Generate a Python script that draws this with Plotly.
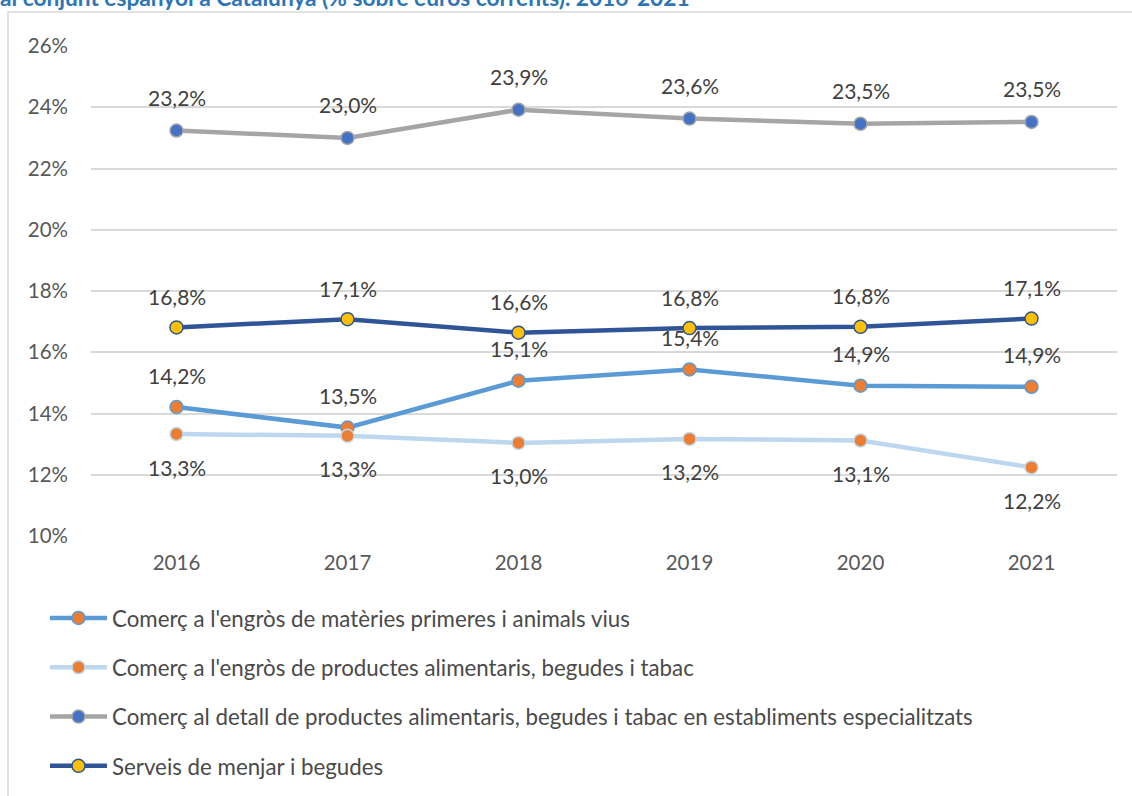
import plotly.graph_objects as go

years = ["2016", "2017", "2018", "2019", "2020", "2021"]
names = [
    "Comerç a l'engròs de matèries primeres i animals vius",
    "Comerç a l'engròs de productes alimentaris, begudes i tabac",
    "Comerç al detall de productes alimentaris, begudes i tabac en establiments especialitzats",
    "Serveis de menjar i begudes",
]
engros_materies = [14.21, 13.54, 15.07, 15.44, 14.91, 14.87]
engros_alimentaris = [13.33, 13.27, 13.04, 13.17, 13.12, 12.24]
detall_alimentaris = [23.24, 23.0, 23.92, 23.63, 23.46, 23.52]
serveis_menjar = [16.81, 17.08, 16.64, 16.79, 16.83, 17.1]
series = [engros_materies, engros_alimentaris, detall_alimentaris, serveis_menjar]

line_colors = ["#5B9BD5", "#BDD7EE", "#A5A5A5", "#2F5597"]
marker_colors = ["#ED7D31", "#ED7D31", "#4472C4", "#FFC000"]
label_shift = [32, -33, 33, 31]

title = "al conjunt espanyol a Catalunya (% sobre euros corrents). 2016-2021"

FONT = "Lato, 'Open Sans', sans-serif"

fig = go.Figure()
for i, (nm, vals) in enumerate(zip(names, series)):
    fig.add_trace(go.Scatter(
        x=years, y=vals, name=nm, mode="lines+markers",
        line=dict(color=line_colors[i], width=4.5),
        marker=dict(size=13, color=marker_colors[i], line=dict(color=line_colors[i], width=1.5)),
        legendgroup=str(i),
    ))
    for j, v in enumerate(vals):
        fig.add_annotation(x=j, y=v, text=f"{v:.1f}%".replace(".", ","), showarrow=False,
                           yshift=label_shift[i], font=dict(size=21, color="#404040", family=FONT))

W, H = 1132, 796
ml, mr, mt, mb = 91, 15, 46, 260
pw, ph = W - ml - mr, H - mt - mb

def px(xp):
    return (xp - ml) / pw

def py(yp):
    return 1 - (yp - mt) / ph

fig.add_shape(type="rect", xref="paper", yref="paper",
              x0=px(8), x1=px(1140), y0=py(12), y1=py(810),
              line=dict(color="#D9D9D9", width=1.5), fillcolor="rgba(0,0,0,0)", layer="below")

fig.add_annotation(xref="paper", yref="paper", x=px(-2), y=py(13), xanchor="left", yanchor="bottom",
                   text="<b>" + title + "</b>", showarrow=False,
                   font=dict(size=22.7, color="#2E75B6", family=FONT))

fig.update_layout(
    width=W, height=H,
    margin=dict(l=ml, r=mr, t=mt, b=mb, autoexpand=False),
    plot_bgcolor="white", paper_bgcolor="white",
    font=dict(family=FONT, color="#595959", size=20),
    xaxis=dict(type="category", range=[-0.5, 5.5], showgrid=False, showline=False, ticks="",
               tickfont=dict(size=20.5, color="#595959"), ticklabelstandoff=12, tickangle=0),
    yaxis=dict(range=[10, 26], dtick=2, tickformat=".0f", ticksuffix="%", showgrid=True,
               gridcolor="#D9D9D9", gridwidth=1.5, zeroline=False, showline=False,
               tickfont=dict(size=20.5, color="#595959"), ticklabelstandoff=22),
    legend=dict(orientation="v", xref="container", yref="container", x=45 / W, y=1 - 597 / H,
                xanchor="left", yanchor="top", font=dict(size=22.3, color="#4A4A4A"),
                tracegroupgap=17.3, itemwidth=57),
    showlegend=True,
)

fig.write_html("out.html", config={"displayModeBar": False},
               post_script="document.body.style.margin='0';document.body.style.padding='0';")
